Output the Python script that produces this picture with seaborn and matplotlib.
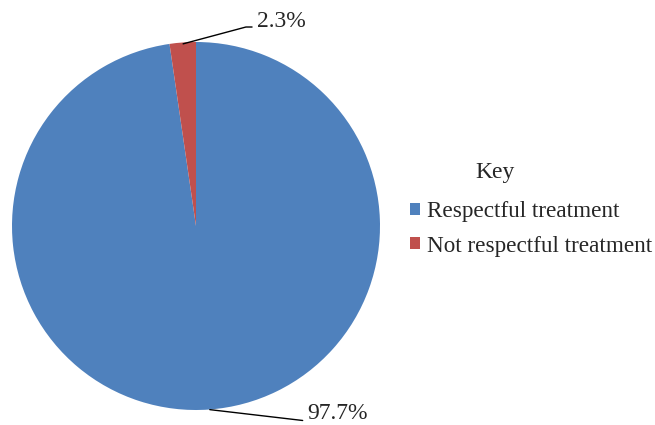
import matplotlib
matplotlib.use("Agg")
import matplotlib.pyplot as plt
import seaborn as sns

sns.set_theme(style="white")
plt.rcParams['font.family'] = ['Liberation Serif', 'DejaVu Serif']

categories = ["Respectful treatment", "Not respectful treatment"]
values = [97.7, 2.3]
labels = ["97.7%", "2.3%"]
colors = ["#4F81BD", "#C0504D"]
legend_title = "Key"

fig = plt.figure(figsize=(6.55, 4.25), dpi=100)
ax = fig.add_axes([12/655, 15/425, 368/655, 368/425])
wedges, _ = ax.pie(values, colors=colors, startangle=90, counterclock=False,
                   radius=1.0, wedgeprops=dict(linewidth=0))
ax.set_xlim(-1, 1)
ax.set_ylim(-1, 1)
ax.set_aspect('equal')
ax.axis('off')

fs = 17
# 2.3% label
ax.annotate(labels[1], xy=(-0.07, 0.99), xytext=(0.33, 1.11),
            xycoords='data', textcoords='data', fontsize=fs, va='center', ha='left',
            annotation_clip=False,
            arrowprops=dict(arrowstyle='-', color='black', lw=1, relpos=(0, 0.25),
                            connectionstyle='angle,angleA=0,angleB=15,rad=0',
                            shrinkA=1, shrinkB=0))
# 97.7% label
ax.annotate(labels[0], xy=(0.075, -0.998), xytext=(0.605, -1.02),
            xycoords='data', textcoords='data', fontsize=fs, va='center', ha='left',
            annotation_clip=False,
            arrowprops=dict(arrowstyle='-', color='black', lw=1, relpos=(0, 0.15),
                            shrinkA=1, shrinkB=0))

fig.text(495/655, 1 - 173/425, legend_title, fontsize=fs, ha='center', va='center')
leg = fig.legend(wedges, categories, loc='center left',
                 bbox_to_anchor=(389/655, 1 - 229/425), frameon=False,
                 fontsize=16.7, handlelength=0.42, handleheight=0.42,
                 handletextpad=0.3, labelspacing=0.58)
fig.savefig("out.png", dpi=100)
